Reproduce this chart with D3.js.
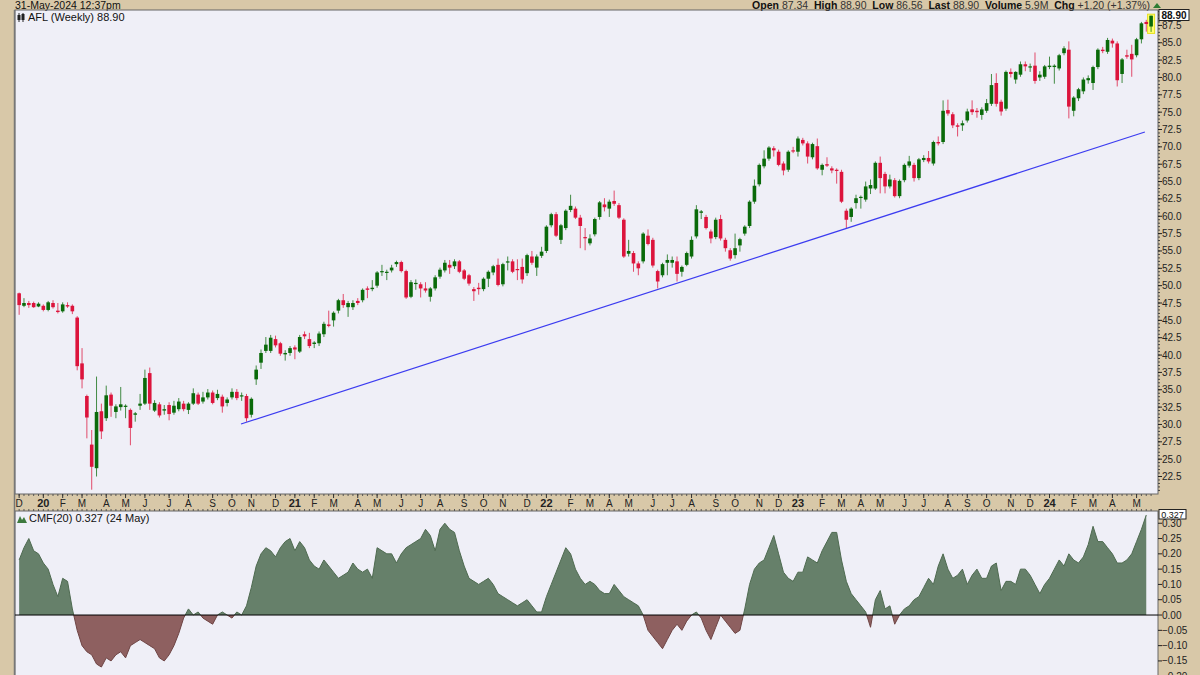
<!DOCTYPE html>
<html><head><meta charset="utf-8">
<script src="https://cdn.jsdelivr.net/npm/d3@7"></script>
<style>body{margin:0;background:#D8C8A8;} svg{display:block;font-family:"Liberation Sans",Arial,sans-serif}</style>
</head><body>
<svg id="c" width="1200" height="675"></svg>
<script>
// ---------- DATA ----------
const startDate = "2019-12-02"; // first weekly bar (Mondays, weekly)
const opens = [48.9,47.1,47.5,47.5,47.0,47.1,46.5,47.5,46.4,46.3,47.2,47.1,45.4,38.8,34.1,27.1,23.7,31.9,30.9,34.3,31.8,32.5,32.6,32.1,31.4,32.7,33.0,37.4,32.0,32.9,32.0,32.8,31.7,32.2,33.0,32.1,33.0,34.3,33.3,33.9,34.6,33.8,34.0,33.1,33.9,34.7,34.1,34.1,31.4,36.5,38.9,40.6,40.6,42.3,41.7,40.1,40.3,41.1,40.5,43.0,42.3,41.6,41.7,43.0,44.4,45.0,46.4,47.9,46.9,46.9,47.8,47.9,49.6,49.5,50.0,52.0,51.9,52.2,53.1,53.4,52.1,48.4,50.3,50.2,49.6,48.4,49.6,51.3,52.2,53.0,52.8,53.5,52.2,51.5,49.5,49.7,49.5,51.0,51.9,53.0,50.2,53.4,53.5,52.4,52.7,51.8,54.2,52.6,54.3,55.0,58.7,60.3,56.6,58.3,60.9,61.1,59.8,57.0,56.1,57.4,59.9,61.7,61.1,62.2,61.6,59.5,54.6,54.7,53.2,53.5,57.2,56.6,52.1,51.5,53.3,53.3,53.5,52.0,53.0,54.2,57.1,60.5,59.9,57.8,57.0,59.6,56.6,55.1,54.4,55.8,57.5,58.6,62.1,64.6,67.2,68.3,69.8,69.3,67.6,66.7,69.5,69.3,71.0,70.5,68.5,70.1,66.7,67.5,66.9,66.7,66.4,60.8,59.9,61.9,62.7,62.4,64.0,64.0,67.7,66.1,64.3,65.2,62.9,65.2,67.3,67.4,65.5,68.1,68.4,67.6,70.7,70.7,75.3,74.7,73.1,73.1,73.8,75.4,75.2,74.6,75.2,76.2,79.2,76.5,75.5,80.8,79.7,80.4,81.9,81.5,81.7,80.0,80.1,81.5,81.5,81.3,83.5,84.0,75.2,77.0,78.0,79.6,79.2,81.5,84.0,83.7,85.3,84.9,80.5,83.2,83.4,83.2,85.5,88.0,87.34];
const highs = [49.0,48.2,47.8,47.7,47.6,47.3,47.8,47.9,47.5,47.6,47.6,47.3,45.6,41.0,34.3,29.2,36.9,33.0,35.6,34.6,32.9,35.4,32.9,32.3,31.8,34.4,37.9,38.2,33.5,33.2,32.8,33.2,33.4,33.8,33.4,33.2,35.2,34.6,34.7,35.1,34.9,35.0,34.3,33.9,35.2,35.1,34.6,34.4,33.9,38.5,40.8,42.6,42.9,42.8,41.9,40.7,41.3,41.4,42.9,43.4,43.2,42.0,43.4,44.8,46.4,46.3,48.1,48.8,47.8,47.9,48.2,49.6,49.9,50.8,52.1,53.0,52.3,53.0,53.6,53.6,52.3,50.8,50.9,50.5,50.5,49.8,51.5,52.6,53.7,53.7,53.8,53.7,52.4,51.7,49.8,50.4,51.2,52.2,53.0,53.9,53.3,54.2,53.8,53.8,53.9,54.6,55.0,54.5,55.6,58.7,60.5,60.6,58.9,61.0,63.1,61.4,60.2,58.3,57.4,59.8,62.2,62.6,62.4,63.7,61.9,59.7,56.6,55.0,53.5,57.7,58.1,56.9,52.3,53.3,54.5,54.2,54.2,52.9,54.9,57.1,61.6,60.9,60.2,58.1,59.8,60.2,56.9,55.4,57.5,56.9,58.7,62.3,65.3,67.6,69.5,70.1,70.1,69.6,67.9,69.5,70.0,71.5,71.3,70.8,70.6,71.2,67.6,68.5,67.2,66.9,66.7,61.1,61.3,63.1,63.0,65.0,65.3,67.9,68.6,66.4,66.0,65.5,65.3,67.6,68.7,67.7,68.4,68.8,69.4,70.9,71.5,76.7,76.8,75.0,73.4,73.8,75.5,76.7,75.6,75.7,76.9,80.5,80.6,76.8,81.0,81.3,80.9,82.3,82.3,82.0,83.6,80.9,81.8,83.0,81.9,83.4,84.5,85.2,77.3,78.5,80.0,80.3,81.7,84.2,84.4,85.7,85.6,85.2,82.8,84.0,84.7,85.7,88.0,88.3,88.90];
const lows = [45.8,46.9,46.8,46.8,46.9,46.3,46.3,46.7,46.0,46.1,46.8,45.9,37.8,35.2,28.0,20.6,22.5,27.9,30.5,31.1,30.9,32.0,30.9,27.0,30.4,32.1,32.8,32.1,31.8,31.0,31.4,30.6,31.4,31.9,31.9,31.5,32.8,32.8,33.0,33.6,32.9,33.5,31.7,32.6,33.6,33.5,33.4,30.4,31.0,35.7,38.0,40.3,40.3,41.1,39.9,39.2,39.9,39.4,40.3,42.3,41.0,41.0,41.3,42.6,44.0,44.1,46.0,46.8,45.5,46.5,47.2,47.6,48.2,49.2,49.7,51.4,50.8,51.9,52.7,51.9,48.1,48.2,49.4,48.3,49.0,47.7,49.3,51.0,51.9,51.7,52.4,51.8,50.8,50.0,47.8,48.7,49.2,49.8,51.5,49.9,49.9,52.2,51.8,50.8,50.3,51.4,53.0,51.4,54.0,54.7,58.4,57.0,56.0,58.0,60.6,59.6,55.4,55.1,55.8,57.1,59.5,60.7,59.9,61.5,59.6,54.0,54.2,52.0,51.5,53.2,55.8,52.6,49.6,51.2,51.5,52.6,50.6,51.3,52.8,53.9,56.8,59.6,58.1,56.1,56.7,56.5,54.9,53.6,53.9,54.9,57.2,58.3,61.8,64.3,66.9,68.0,68.6,67.2,65.9,66.4,69.1,68.6,70.2,67.6,68.2,66.7,65.9,67.1,66.2,64.7,61.9,58.3,59.2,61.1,61.1,62.1,63.2,63.8,63.3,63.3,64.0,62.7,62.6,64.9,67.0,65.0,65.2,67.8,67.6,67.3,70.2,70.4,74.5,72.7,71.5,72.3,73.5,74.6,74.2,73.9,74.9,75.9,75.8,74.5,75.2,80.0,79.1,80.1,80.9,80.8,79.1,79.5,79.8,81.2,79.1,81.0,83.2,74.1,74.4,76.6,77.6,79.1,78.2,81.2,83.5,83.4,84.3,78.7,79.2,82.7,80.1,82.9,84.9,86.6,86.56];
const closes = [47.2,47.5,47.2,46.9,47.4,46.5,47.6,46.9,46.2,47.3,47.0,46.3,38.4,36.5,31.0,23.9,31.8,29.0,34.2,32.7,32.6,32.9,32.7,29.5,31.6,33.0,36.7,33.0,33.1,31.3,32.2,31.5,32.7,33.3,32.2,33.0,34.5,33.0,33.9,34.6,33.1,34.4,32.6,33.6,34.7,33.8,34.2,30.9,33.7,37.9,40.3,41.5,42.5,41.4,40.2,40.3,41.0,40.8,42.6,42.7,41.3,41.8,43.1,44.5,44.2,46.1,47.9,47.2,47.5,47.5,47.5,49.4,49.4,49.7,51.9,52.1,52.0,52.6,53.4,52.1,48.3,50.5,50.4,49.6,49.3,49.6,51.2,52.3,53.3,52.6,53.5,52.0,51.0,50.3,49.2,49.5,51.0,52.0,52.8,50.1,53.1,53.5,52.0,52.3,50.9,54.4,53.3,54.2,54.9,58.5,60.3,57.2,58.7,60.8,61.5,59.8,58.6,56.9,56.8,59.6,62.0,61.3,62.1,61.8,59.8,54.2,55.0,53.2,52.5,57.5,56.0,52.9,50.6,53.1,53.7,53.7,51.7,52.7,54.7,56.6,61.0,60.7,58.3,56.8,59.5,56.8,55.4,53.9,55.4,56.7,58.5,62.1,64.4,67.4,68.3,69.9,69.5,67.4,66.6,69.3,69.4,71.2,70.5,68.6,70.4,66.9,67.4,67.3,66.6,66.6,62.1,59.5,61.1,62.6,62.8,64.3,64.5,67.7,65.5,64.3,65.3,62.9,65.1,67.4,67.9,65.5,68.2,68.4,67.9,70.7,70.5,75.2,74.8,73.1,72.9,73.4,75.1,75.0,75.0,75.4,76.3,78.9,76.2,75.1,80.8,80.5,80.8,81.9,81.6,81.6,79.5,80.4,81.6,81.7,81.7,83.2,84.2,75.8,77.1,78.3,79.7,79.9,81.5,84.0,83.8,85.4,84.9,79.6,82.6,83.0,82.6,85.5,87.8,87.7,88.90];
const cmf = [0.18,0.22,0.25,0.21,0.20,0.17,0.15,0.10,0.06,0.12,0.11,0.02,-0.05,-0.10,-0.12,-0.13,-0.16,-0.17,-0.14,-0.15,-0.13,-0.12,-0.14,-0.10,-0.09,-0.08,-0.09,-0.10,-0.11,-0.14,-0.15,-0.13,-0.10,-0.06,-0.01,0.02,0.00,0.01,-0.01,-0.02,-0.03,0.00,0.01,0.00,-0.01,0.01,0.00,0.03,0.09,0.16,0.20,0.22,0.21,0.19,0.22,0.24,0.25,0.21,0.24,0.22,0.18,0.16,0.15,0.18,0.16,0.14,0.12,0.13,0.14,0.17,0.15,0.14,0.15,0.12,0.22,0.21,0.20,0.20,0.17,0.20,0.22,0.23,0.24,0.25,0.28,0.26,0.21,0.28,0.30,0.28,0.27,0.21,0.16,0.12,0.11,0.10,0.11,0.12,0.10,0.07,0.06,0.05,0.04,0.03,0.04,0.05,0.03,0.01,0.01,0.06,0.10,0.14,0.18,0.22,0.20,0.15,0.12,0.10,0.11,0.10,0.08,0.07,0.07,0.10,0.08,0.06,0.05,0.04,0.03,0.00,-0.05,-0.07,-0.09,-0.11,-0.08,-0.05,-0.03,-0.05,-0.02,0.00,0.01,-0.01,-0.05,-0.08,-0.04,0.00,-0.02,-0.04,-0.06,-0.05,0.02,0.10,0.15,0.17,0.18,0.22,0.26,0.20,0.14,0.12,0.11,0.14,0.14,0.19,0.18,0.17,0.21,0.24,0.27,0.27,0.18,0.11,0.07,0.05,0.03,0.01,-0.04,0.05,0.08,0.02,0.03,-0.03,0.00,0.02,0.03,0.05,0.06,0.09,0.12,0.10,0.16,0.20,0.15,0.12,0.13,0.15,0.10,0.13,0.15,0.12,0.12,0.16,0.17,0.08,0.11,0.11,0.10,0.15,0.15,0.13,0.10,0.07,0.10,0.12,0.15,0.18,0.16,0.20,0.18,0.17,0.19,0.23,0.29,0.24,0.24,0.22,0.20,0.17,0.17,0.18,0.20,0.24,0.28,0.327];
const trendDates = ["2020-10-18","2024-05-18"];
const trendValues = [30.06, 72.14];
const priceTicks = [22.5,25,27.5,30,32.5,35,37.5,40,42.5,45,47.5,50,52.5,55,57.5,60,62.5,65,67.5,70,72.5,75,77.5,80,82.5,85,87.5];
const cmfTicks = [0.30,0.25,0.20,0.15,0.10,0.05,0.00,-0.05,-0.10,-0.15,-0.20];
const monthLetters = ["J","F","M","A","M","J","J","A","S","O","N","D"];
const headerLeft = "31-May-2024 12:37pm";
const quote = [["Open","87.34"],["High","88.90"],["Low","86.56"],["Last","88.90"],["Volume","5.9M"],["Chg","+1.20 (+1.37%)"]];
const titleText = "AFL (Weekly) 88.90";
const cmfTitle = "CMF(20) 0.327 (24 May)";
const lastPrice = "88.90", lastCmf = "0.327";

// ---------- LAYOUT ----------
const W=1200,H=675, L=15, R=1158, pTop=10, pBot=494, cTop=511, cBot=675;
const GREEN="#0A6A0A", RED="#DC143C", TAN="#D8C8A8", PBG="#EFEFF7";
const parse = d3.utcParse("%Y-%m-%d");
const d0 = parse(startDate);
const dates = opens.map((_,i)=>d3.utcDay.offset(d0, 7*i));
const x = d3.scaleUtc().domain([parse("2019-11-26"), parse("2024-06-06")]).range([L,R]);
const y = d3.scaleLinear().domain([19.98,89.72]).range([pBot,pTop]);
const yc = d3.scaleLinear().domain([-0.196,0.340]).range([cBot,cTop]);

const svg = d3.select("#c");
svg.append("rect").attr("width",W).attr("height",H).attr("fill",TAN);
svg.append("rect").attr("x",L).attr("y",pTop).attr("width",R-L).attr("height",pBot-pTop).attr("fill",PBG);
svg.append("rect").attr("x",L).attr("y",cTop).attr("width",R-L).attr("height",cBot-cTop+5).attr("fill",PBG);

// header
svg.append("text").attr("x",15).attr("y",8.5).attr("font-size",10.5).attr("fill","#111").text(headerLeft);
const ht = svg.append("text").attr("x",1150).attr("y",8.5).attr("font-size",10.5).attr("text-anchor","end").attr("fill","#111").attr("xml:space","preserve");
quote.forEach(([k,v],i)=>{
  ht.append("tspan").attr("font-weight","bold").text((i?"  ":"")+k+" ");
  ht.append("tspan").attr("fill","#333").text(v);
});
svg.append("path").attr("d","M1153,8 L1157,3 L1161,8 Z").attr("fill","#2E7D32");

// candles
const g = svg.append("g");
const last = opens.length-1;
g.append("rect").attr("x",x(dates[last])-3.5).attr("y",y(highs[last])-1.5).attr("width",7).attr("height",y(lows[last])-y(highs[last])+3)
 .attr("fill","#FFFF70").attr("stroke","#E6E020").attr("stroke-width",1);
opens.forEach((o,i)=>{
  const c=closes[i], cx=x(dates[i]), col = c>=o?GREEN:RED;
  g.append("line").attr("x1",cx).attr("x2",cx).attr("y1",y(highs[i])).attr("y2",y(lows[i])).attr("stroke",col).attr("stroke-opacity",0.75).attr("stroke-width",1);
  const top=y(Math.max(o,c)), bot=y(Math.min(o,c));
  g.append("rect").attr("x",cx-1.8).attr("width",3.6).attr("y",top).attr("height",Math.max(1.2,bot-top)).attr("fill",col);
});

// trendline
svg.append("line").attr("x1",x(parse(trendDates[0]))).attr("y1",y(trendValues[0]))
  .attr("x2",x(parse(trendDates[1]))).attr("y2",y(trendValues[1])).attr("stroke","#3C3CF0").attr("stroke-width",1.2);

// title legend
const lg = svg.append("g");
lg.append("line").attr("x1",19).attr("x2",19).attr("y1",13).attr("y2",22).attr("stroke","#222");
lg.append("rect").attr("x",17.5).attr("y",15).attr("width",3).attr("height",5).attr("fill","#222");
lg.append("line").attr("x1",23).attr("x2",23).attr("y1",13).attr("y2",22).attr("stroke","#222");
lg.append("rect").attr("x",21.5).attr("y",14).attr("width",3).attr("height",6).attr("fill","#222");
svg.append("text").attr("x",28).attr("y",21).attr("font-size",11).attr("fill","#111").text(titleText);

// borders
svg.append("rect").attr("x",L).attr("y",pTop).attr("width",R-L).attr("height",pBot-pTop).attr("fill","none").attr("stroke","#666");
svg.append("rect").attr("x",L).attr("y",cTop).attr("width",R-L).attr("height",cBot-cTop+5).attr("fill","none").attr("stroke","#666");
svg.append("line").attr("x1",L-0.5).attr("x2",L-0.5).attr("y1",pTop).attr("y2",H).attr("stroke","#777").attr("stroke-width",1.5);

// price axis
const ax = svg.append("g");
d3.range(20,90,0.5).forEach(v=>{ if(y(v)>pTop+1&&y(v)<pBot-1) ax.append("line").attr("x1",R).attr("x2",R+2).attr("y1",y(v)).attr("y2",y(v)).attr("stroke","#444");});
priceTicks.forEach(v=>{
  ax.append("line").attr("x1",R).attr("x2",R+4).attr("y1",y(v)).attr("y2",y(v)).attr("stroke","#222");
  ax.append("text").attr("x",R+4).attr("y",y(v)+3.5).attr("font-size",10).attr("fill","#222").text(d3.format(".1f")(v));
});
ax.append("rect").attr("x",R+1).attr("y",9.5).attr("width",30).attr("height",11).attr("fill","#fff").attr("stroke","#222");
ax.append("text").attr("x",R+16).attr("y",18.5).attr("font-size",10).attr("font-weight","bold").attr("text-anchor","middle").attr("fill","#111").text(lastPrice);

// x axis band
const xb = svg.append("g");
dates.forEach(d=>{
  xb.append("line").attr("x1",x(d)).attr("x2",x(d)).attr("y1",pBot).attr("y2",pBot+2).attr("stroke","#555");
  xb.append("line").attr("x1",x(d)).attr("x2",x(d)).attr("y1",cTop-2).attr("y2",cTop).attr("stroke","#555");
});
dates.forEach((d,i)=>{
  if(i>0 && d.getUTCMonth()===dates[i-1].getUTCMonth()) return;
  const m=d.getUTCMonth(), isYear = m===0;
  xb.append("line").attr("x1",x(d)).attr("x2",x(d)).attr("y1",pBot).attr("y2",pBot+4).attr("stroke","#333");
  xb.append("text").attr("x",x(d)).attr("y",507).attr("font-size",isYear?11:10).attr("font-weight",isYear?"bold":"normal")
    .attr("text-anchor","middle").attr("fill","#222").text(isYear? String(d.getUTCFullYear()).slice(2): monthLetters[m]);
});

// CMF
const cg = svg.append("g");
const defs = svg.append("defs");
defs.append("clipPath").attr("id","pos").append("rect").attr("x",L).attr("y",cTop).attr("width",R-L).attr("height",yc(0)-cTop);
defs.append("clipPath").attr("id","neg").append("rect").attr("x",L).attr("y",yc(0)).attr("width",R-L).attr("height",cBot-yc(0)+5);
const cmfDates = dates.slice(0,cmf.length);
const area = d3.area().x((d,i)=>x(cmfDates[i])).y0(yc(0)).y1(d=>yc(d));
const line = d3.line().x((d,i)=>x(cmfDates[i])).y(d=>yc(d));
cg.append("path").attr("clip-path","url(#pos)").attr("d",area(cmf)).attr("fill","#66806A");
cg.append("path").attr("clip-path","url(#neg)").attr("d",area(cmf)).attr("fill","#8E6060");
cg.append("path").attr("clip-path","url(#pos)").attr("d",line(cmf)).attr("fill","none").attr("stroke","#4E6A50").attr("stroke-width",1);
cg.append("path").attr("clip-path","url(#neg)").attr("d",line(cmf)).attr("fill","none").attr("stroke","#6E4444").attr("stroke-width",1);
cg.append("line").attr("x1",L).attr("x2",R).attr("y1",yc(0)).attr("y2",yc(0)).attr("stroke","#000").attr("stroke-width",1);

// CMF legend
svg.append("path").attr("d","M17,523 L20,516 L22,520 L24,517 L27,523 Z").attr("fill","#3E7A3E");
svg.append("text").attr("x",29).attr("y",522).attr("font-size",11).attr("fill","#111").text(cmfTitle);

// CMF axis
cmfTicks.forEach(v=>{
  cg.append("line").attr("x1",R).attr("x2",R+4).attr("y1",yc(v)).attr("y2",yc(v)).attr("stroke","#222");
  cg.append("text").attr("x",R+4).attr("y",yc(v)+3.5).attr("font-size",10).attr("fill","#222").text(d3.format(".2f")(v));
});
cg.append("rect").attr("x",R+1).attr("y",509.5).attr("width",27).attr("height",9.5).attr("fill","#fff").attr("stroke","#222");
cg.append("text").attr("x",R+14.5).attr("y",517.5).attr("font-size",9).attr("text-anchor","middle").attr("fill","#111").text(lastCmf);
</script>
</body></html>
